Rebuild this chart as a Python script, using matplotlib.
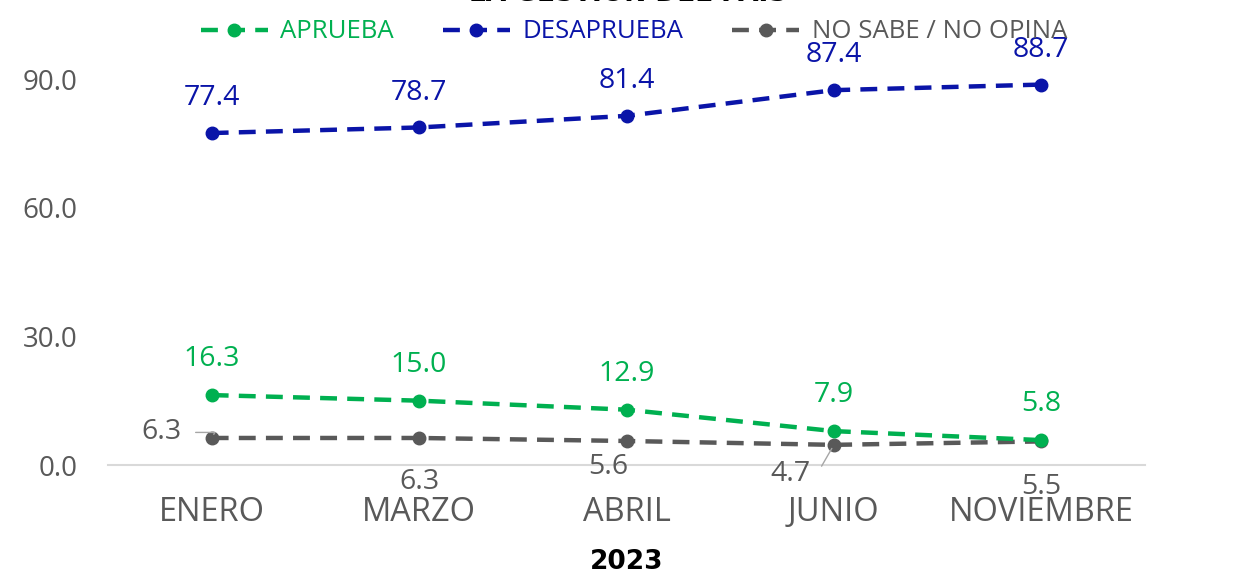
import matplotlib
matplotlib.use('Agg')
import matplotlib.pyplot as plt

meses = ['ENERO', 'MARZO', 'ABRIL', 'JUNIO', 'NOVIEMBRE']
aprueba = [16.3, 15.0, 12.9, 7.9, 5.8]
desaprueba = [77.4, 78.7, 81.4, 87.4, 88.7]
no_sabe = [6.3, 6.3, 5.6, 4.7, 5.5]
anio = '2023'
titulo = 'LA GESTIÓN DEL PAÍS'

verde = '#00B050'
azul = '#0A14A8'
gris = '#595959'

plt.rcParams['font.family'] = ['Open Sans', 'DejaVu Sans']

fig = plt.figure(figsize=(12.36, 5.72), dpi=100)
ax = fig.add_axes([108 / 1236, 107 / 572, (1145 - 108) / 1236, (465 - 79) / 572])

x = list(range(len(meses)))
estilo = dict(lw=3.2, dashes=(3.8, 2.3), marker='o', ms=9, clip_on=False)
ax.plot(x, no_sabe, color=gris, label='NO SABE / NO OPINA', zorder=3, **estilo)
ax.plot(x, aprueba, color=verde, label='APRUEBA', zorder=4, **estilo)
ax.plot(x, desaprueba, color=azul, label='DESAPRUEBA', zorder=4, **estilo)

# etiquetas de datos
for i, v in enumerate(aprueba):
    ax.annotate(f'{v:.1f}', (i, v), xytext=(0, 26), textcoords='offset points',
                ha='center', va='center', fontsize=20.5, color=verde)
for i, v in enumerate(desaprueba):
    ax.annotate(f'{v:.1f}', (i, v), xytext=(0, 25), textcoords='offset points',
                ha='center', va='center', fontsize=20.5, color=azul)

# NO SABE / NO OPINA: posiciones irregulares, algunas con linea guia
offs = [(-36, 4), (0, -32), (-13, -19), (-31, -21), (0, -33)]
guia = [True, False, False, True, False]
for i, v in enumerate(no_sabe):
    dx, dy = offs[i]
    props = dict(arrowstyle='-', color='#A6A6A6', lw=1,
                 connectionstyle='angle,angleA=0,angleB=60,rad=0',
                 shrinkA=8, shrinkB=3) if guia[i] else None
    ax.annotate(f'{v:.1f}', (i, v), xytext=(dx, dy), textcoords='offset points',
                ha='center', va='center', fontsize=20.5, color=gris,
                arrowprops=props)

ax.set_xlim(-0.5, len(meses) - 0.5)
ax.set_ylim(0, 90)
ax.set_yticks([0, 30, 60, 90])
ax.set_yticklabels([f'{t:.1f}' for t in [0, 30, 60, 90]], fontsize=20, color=gris)
ax.set_xticks(x)
ax.set_xticklabels(meses, fontsize=23.5, color=gris)
ax.tick_params(axis='both', length=0)
ax.tick_params(axis='y', pad=22)
ax.tick_params(axis='x', pad=22)
for s in ['top', 'right', 'left']:
    ax.spines[s].set_visible(False)
ax.spines['bottom'].set_color('#D9D9D9')
ax.spines['bottom'].set_linewidth(1.5)
ax.set_xlabel(anio, fontsize=19, fontweight='bold', family='DejaVu Sans',
              color='black', labelpad=15)

h, l = ax.get_legend_handles_labels()
orden = [1, 2, 0]
leg = fig.legend([h[k] for k in orden], [l[k] for k in orden], ncol=3,
                 loc='center', bbox_to_anchor=(634 / 1236, 1 - 32 / 572),
                 frameon=False, fontsize=18.5, handlelength=2.6,
                 columnspacing=1.9, handletextpad=0.5)
for txt, c in zip(leg.get_texts(), [verde, azul, gris]):
    txt.set_color(c)

# titulo cortado por el borde superior
fig.text(628 / 1236, 1 - 1 / 572, titulo, ha='center', va='baseline', fontsize=19,
         fontweight='bold', family='DejaVu Sans', color='black')

fig.savefig('out.png', dpi=100)
